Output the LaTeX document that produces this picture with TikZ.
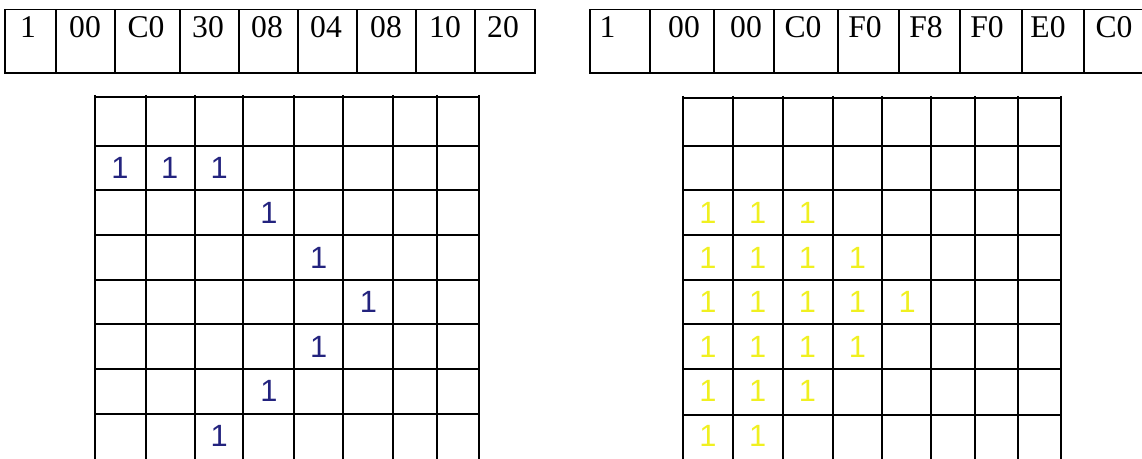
\documentclass[tikz,border=0pt]{standalone}
\usepackage{fontspec}
\setmainfont{Liberation Serif}
\newfontfamily\bitfont{Liberation Sans}
\usepackage{tikz}
\definecolor{bitblue}{HTML}{23237E}
\definecolor{bityellow}{HTML}{F0F020}

\begin{document}
\begin{tikzpicture}[x=0.02cm,y=-0.02cm,
  tabline/.style={line width=1.1pt},
  gridline/.style={line width=0.8pt,black},
  hexval/.style={inner sep=0pt,font=\fontsize{18}{20}\selectfont},
  bit/.style={inner sep=0pt,font=\bitfont\fontsize{17.5}{19}\selectfont}
]
\useasboundingbox (0,0) rectangle (1142,459);

% left code row
\draw[tabline] (64,73) -| (5,9.5) -| (535,73) -- (508,73);
\draw[line width=0.6pt] (64,73) -- (508,73);
\foreach \x in {56,115,180,239,298,357,416,475}
  \draw[tabline] (\x,9.5) -- (\x,73);
\foreach \t/\x [count=\i] in {1/28,00/85,C0/146,30/208,08/267,04/326,08/386,10/445,20/503}
  \node[hexval] (lhex\i) at (\x,27.5) {\t};

% right code row
\draw[tabline] (1142,9.5) -- (590,9.5) -- (590,73) -- (1142,73);
\foreach \x in {650,714,774,838,899,960,1022,1084}
  \draw[tabline] (\x,9.5) -- (\x,73);
\foreach \t/\x [count=\i] in {1/607.5,00/684,00/746,C0/803,F0/865,F8/926,F0/987,E0/1048,C0/1114}
  \node[hexval] (rhex\i) at (\x,27.5) {\t};

% left bitmap
\foreach \x in {95,146,195,243,294,343,393,437,479}
  \draw[gridline] (\x,95) -- (\x,459);
\foreach \y in {97,146,190,235,280,324,369,414}
  \draw[gridline] (95,\y) -- (479,\y);
\foreach \c/\r [count=\i] in {1/2,2/2,3/2,4/3,5/4,6/5,5/6,4/7,3/8}
  \node[bit,text=bitblue] (lbit\i) at ({95+49.7*(\c-0.5)},{146+44.6*(\r-1.5)}) {1};

% right bitmap
\foreach \x in {683,733,783,833,882,931,975,1018,1061}
  \draw[gridline] (\x,96) -- (\x,459);
\foreach \y in {98,146,190,235,280,324,369,415}
  \draw[gridline] (683,\y) -- (1061,\y);
\foreach \r/\n in {3/3,4/4,5/5,6/4,7/3,8/2}
  \foreach \c in {1,...,\n}
    \node[bit,text=bityellow] (rbit\r\c) at ({683+49.8*(\c-0.5)},{146+44.6*(\r-1.5)}) {1};
\end{tikzpicture}
\end{document}
